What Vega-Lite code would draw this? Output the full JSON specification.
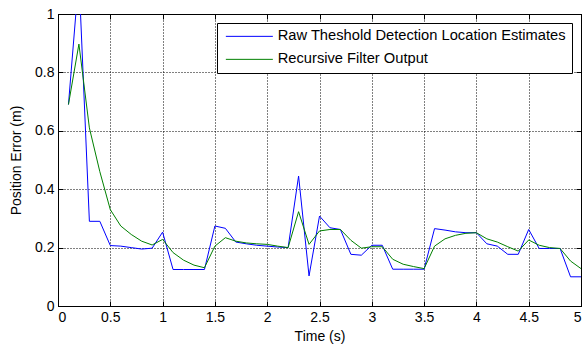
{
  "$schema": "https://vega.github.io/schema/vega-lite/v6.json",
  "width": 523,
  "height": 292,
  "autosize": {"type": "none"},
  "padding": {"left": 58, "top": 14, "right": 2, "bottom": 46},
  "background": "white",
  "config": {
    "view": {"stroke": "black", "strokeWidth": 1},
    "font": "Liberation Sans",
    "axis": {
      "labelFont": "Liberation Sans",
      "titleFont": "Liberation Sans",
      "labelFontSize": 14,
      "titleFontSize": 14,
      "titleFontWeight": "normal",
      "labelColor": "black",
      "titleColor": "black",
      "domainColor": "black",
      "tickColor": "black",
      "gridColor": "black",
      "gridOpacity": 1,
      "gridDash": [1, 2],
      "tickSize": -5,
      "labelPadding": 9
    }
  },
  "data": {
    "values": [
      {"t": 0.1, "v": 0.69, "s": "Raw Theshold Detection Location Estimates"},
      {"t": 0.2, "v": 1.13, "s": "Raw Theshold Detection Location Estimates"},
      {"t": 0.3, "v": 0.29, "s": "Raw Theshold Detection Location Estimates"},
      {"t": 0.4, "v": 0.29, "s": "Raw Theshold Detection Location Estimates"},
      {"t": 0.5, "v": 0.207, "s": "Raw Theshold Detection Location Estimates"},
      {"t": 0.6, "v": 0.205, "s": "Raw Theshold Detection Location Estimates"},
      {"t": 0.7, "v": 0.2, "s": "Raw Theshold Detection Location Estimates"},
      {"t": 0.8, "v": 0.195, "s": "Raw Theshold Detection Location Estimates"},
      {"t": 0.9, "v": 0.198, "s": "Raw Theshold Detection Location Estimates"},
      {"t": 1.0, "v": 0.253, "s": "Raw Theshold Detection Location Estimates"},
      {"t": 1.1, "v": 0.125, "s": "Raw Theshold Detection Location Estimates"},
      {"t": 1.2, "v": 0.125, "s": "Raw Theshold Detection Location Estimates"},
      {"t": 1.3, "v": 0.125, "s": "Raw Theshold Detection Location Estimates"},
      {"t": 1.4, "v": 0.125, "s": "Raw Theshold Detection Location Estimates"},
      {"t": 1.5, "v": 0.274, "s": "Raw Theshold Detection Location Estimates"},
      {"t": 1.6, "v": 0.266, "s": "Raw Theshold Detection Location Estimates"},
      {"t": 1.7, "v": 0.219, "s": "Raw Theshold Detection Location Estimates"},
      {"t": 1.8, "v": 0.213, "s": "Raw Theshold Detection Location Estimates"},
      {"t": 1.9, "v": 0.208, "s": "Raw Theshold Detection Location Estimates"},
      {"t": 2.0, "v": 0.205, "s": "Raw Theshold Detection Location Estimates"},
      {"t": 2.1, "v": 0.202, "s": "Raw Theshold Detection Location Estimates"},
      {"t": 2.2, "v": 0.2, "s": "Raw Theshold Detection Location Estimates"},
      {"t": 2.3, "v": 0.445, "s": "Raw Theshold Detection Location Estimates"},
      {"t": 2.4, "v": 0.103, "s": "Raw Theshold Detection Location Estimates"},
      {"t": 2.5, "v": 0.308, "s": "Raw Theshold Detection Location Estimates"},
      {"t": 2.6, "v": 0.268, "s": "Raw Theshold Detection Location Estimates"},
      {"t": 2.7, "v": 0.262, "s": "Raw Theshold Detection Location Estimates"},
      {"t": 2.8, "v": 0.177, "s": "Raw Theshold Detection Location Estimates"},
      {"t": 2.9, "v": 0.174, "s": "Raw Theshold Detection Location Estimates"},
      {"t": 3.0, "v": 0.208, "s": "Raw Theshold Detection Location Estimates"},
      {"t": 3.1, "v": 0.208, "s": "Raw Theshold Detection Location Estimates"},
      {"t": 3.2, "v": 0.126, "s": "Raw Theshold Detection Location Estimates"},
      {"t": 3.3, "v": 0.126, "s": "Raw Theshold Detection Location Estimates"},
      {"t": 3.4, "v": 0.126, "s": "Raw Theshold Detection Location Estimates"},
      {"t": 3.5, "v": 0.126, "s": "Raw Theshold Detection Location Estimates"},
      {"t": 3.6, "v": 0.265, "s": "Raw Theshold Detection Location Estimates"},
      {"t": 3.7, "v": 0.26, "s": "Raw Theshold Detection Location Estimates"},
      {"t": 3.8, "v": 0.254, "s": "Raw Theshold Detection Location Estimates"},
      {"t": 3.9, "v": 0.251, "s": "Raw Theshold Detection Location Estimates"},
      {"t": 4.0, "v": 0.251, "s": "Raw Theshold Detection Location Estimates"},
      {"t": 4.1, "v": 0.213, "s": "Raw Theshold Detection Location Estimates"},
      {"t": 4.2, "v": 0.205, "s": "Raw Theshold Detection Location Estimates"},
      {"t": 4.3, "v": 0.177, "s": "Raw Theshold Detection Location Estimates"},
      {"t": 4.4, "v": 0.177, "s": "Raw Theshold Detection Location Estimates"},
      {"t": 4.5, "v": 0.262, "s": "Raw Theshold Detection Location Estimates"},
      {"t": 4.6, "v": 0.197, "s": "Raw Theshold Detection Location Estimates"},
      {"t": 4.7, "v": 0.197, "s": "Raw Theshold Detection Location Estimates"},
      {"t": 4.8, "v": 0.197, "s": "Raw Theshold Detection Location Estimates"},
      {"t": 4.9, "v": 0.1, "s": "Raw Theshold Detection Location Estimates"},
      {"t": 5.0, "v": 0.1, "s": "Raw Theshold Detection Location Estimates"},
      {"t": 0.1, "v": 0.69, "s": "Recursive Filter Output"},
      {"t": 0.2, "v": 0.897, "s": "Recursive Filter Output"},
      {"t": 0.3, "v": 0.61, "s": "Recursive Filter Output"},
      {"t": 0.4, "v": 0.46, "s": "Recursive Filter Output"},
      {"t": 0.5, "v": 0.33, "s": "Recursive Filter Output"},
      {"t": 0.6, "v": 0.274, "s": "Recursive Filter Output"},
      {"t": 0.7, "v": 0.245, "s": "Recursive Filter Output"},
      {"t": 0.8, "v": 0.222, "s": "Recursive Filter Output"},
      {"t": 0.9, "v": 0.209, "s": "Recursive Filter Output"},
      {"t": 1.0, "v": 0.228, "s": "Recursive Filter Output"},
      {"t": 1.1, "v": 0.183, "s": "Recursive Filter Output"},
      {"t": 1.2, "v": 0.157, "s": "Recursive Filter Output"},
      {"t": 1.3, "v": 0.14, "s": "Recursive Filter Output"},
      {"t": 1.4, "v": 0.131, "s": "Recursive Filter Output"},
      {"t": 1.5, "v": 0.205, "s": "Recursive Filter Output"},
      {"t": 1.6, "v": 0.234, "s": "Recursive Filter Output"},
      {"t": 1.7, "v": 0.222, "s": "Recursive Filter Output"},
      {"t": 1.8, "v": 0.216, "s": "Recursive Filter Output"},
      {"t": 1.9, "v": 0.213, "s": "Recursive Filter Output"},
      {"t": 2.0, "v": 0.211, "s": "Recursive Filter Output"},
      {"t": 2.1, "v": 0.205, "s": "Recursive Filter Output"},
      {"t": 2.2, "v": 0.2, "s": "Recursive Filter Output"},
      {"t": 2.3, "v": 0.323, "s": "Recursive Filter Output"},
      {"t": 2.4, "v": 0.211, "s": "Recursive Filter Output"},
      {"t": 2.5, "v": 0.257, "s": "Recursive Filter Output"},
      {"t": 2.6, "v": 0.262, "s": "Recursive Filter Output"},
      {"t": 2.7, "v": 0.262, "s": "Recursive Filter Output"},
      {"t": 2.8, "v": 0.225, "s": "Recursive Filter Output"},
      {"t": 2.9, "v": 0.198, "s": "Recursive Filter Output"},
      {"t": 3.0, "v": 0.203, "s": "Recursive Filter Output"},
      {"t": 3.1, "v": 0.203, "s": "Recursive Filter Output"},
      {"t": 3.2, "v": 0.16, "s": "Recursive Filter Output"},
      {"t": 3.3, "v": 0.143, "s": "Recursive Filter Output"},
      {"t": 3.4, "v": 0.135, "s": "Recursive Filter Output"},
      {"t": 3.5, "v": 0.128, "s": "Recursive Filter Output"},
      {"t": 3.6, "v": 0.205, "s": "Recursive Filter Output"},
      {"t": 3.7, "v": 0.23, "s": "Recursive Filter Output"},
      {"t": 3.8, "v": 0.242, "s": "Recursive Filter Output"},
      {"t": 3.9, "v": 0.249, "s": "Recursive Filter Output"},
      {"t": 4.0, "v": 0.251, "s": "Recursive Filter Output"},
      {"t": 4.1, "v": 0.23, "s": "Recursive Filter Output"},
      {"t": 4.2, "v": 0.219, "s": "Recursive Filter Output"},
      {"t": 4.3, "v": 0.203, "s": "Recursive Filter Output"},
      {"t": 4.4, "v": 0.188, "s": "Recursive Filter Output"},
      {"t": 4.5, "v": 0.226, "s": "Recursive Filter Output"},
      {"t": 4.6, "v": 0.208, "s": "Recursive Filter Output"},
      {"t": 4.7, "v": 0.2, "s": "Recursive Filter Output"},
      {"t": 4.8, "v": 0.197, "s": "Recursive Filter Output"},
      {"t": 4.9, "v": 0.154, "s": "Recursive Filter Output"},
      {"t": 5.0, "v": 0.128, "s": "Recursive Filter Output"}
    ]
  },
  "resolve": {"axis": {"x": "independent", "y": "independent"}},
  "layer": [
    {
      "mark": {"type": "line", "clip": true, "strokeWidth": 1},
      "encoding": {
        "x": {
          "field": "t", "type": "quantitative",
          "scale": {"domain": [0, 5], "nice": false, "zero": false},
          "axis": {"orient": "bottom", "values": [0, 0.5, 1, 1.5, 2, 2.5, 3, 3.5, 4, 4.5, 5], "title": "Time (s)", "format": "~g", "titlePadding": 5}
        },
        "y": {
          "field": "v", "type": "quantitative",
          "scale": {"domain": [0, 1], "nice": false, "zero": false},
          "axis": {"orient": "left", "values": [0, 0.2, 0.4, 0.6, 0.8, 1], "title": "Position Error (m)", "format": "~g", "titlePadding": 11}
        },
        "color": {
          "field": "s", "type": "nominal",
          "scale": {"domain": ["Raw Theshold Detection Location Estimates", "Recursive Filter Output"], "range": ["#0000ff", "#008000"]},
          "legend": {
            "orient": "none", "legendX": 159, "legendY": 9, "title": null,
            "strokeColor": "black", "fillColor": "white", "padding": 6,
            "symbolType": "M-4.7,0H4.7", "symbolSize": 100, "symbolStrokeWidth": 1,
            "symbolFillColor": "transparent", "symbolOffset": 19,
            "labelFontSize": 14.7, "labelFont": "Liberation Sans", "labelColor": "black",
            "labelLimit": 500,
            "rowPadding": 7, "labelOffset": 21, "cornerRadius": 0
          }
        }
      }
    },
    {
      "mark": {"type": "line", "strokeOpacity": 0},
      "encoding": {
        "x": {
          "field": "t", "type": "quantitative",
          "scale": {"domain": [0, 5], "nice": false, "zero": false},
          "axis": {"orient": "top", "values": [0, 0.5, 1, 1.5, 2, 2.5, 3, 3.5, 4, 4.5, 5], "labels": false, "title": null, "grid": false}
        },
        "y": {
          "field": "v", "type": "quantitative",
          "scale": {"domain": [0, 1], "nice": false, "zero": false},
          "axis": {"orient": "right", "values": [0, 0.2, 0.4, 0.6, 0.8, 1], "labels": false, "title": null, "grid": false}
        },
        "detail": {"field": "s"}
      }
    }
  ]
}
